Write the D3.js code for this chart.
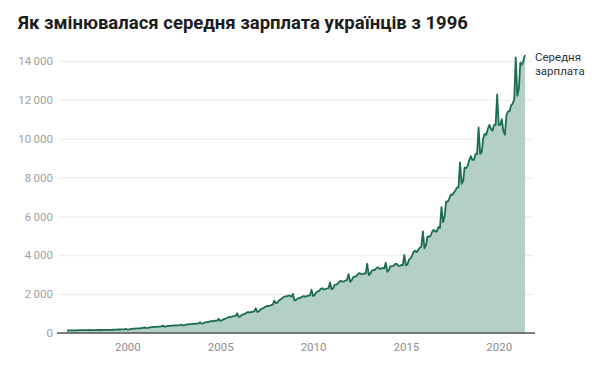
<!DOCTYPE html>
<html><head><meta charset="utf-8">
<script src="https://cdn.jsdelivr.net/npm/d3@7"></script>
<style>
body{margin:0;background:#fff;}
svg{display:block;font-family:Roboto, "Noto Sans", sans-serif;}
</style></head>
<body><svg id="c" width="600" height="366"></svg>
<script>
const title = "Як змінювалася середня зарплата українців з 1996";
const seriesLabel = ["Середня", "зарплата"];
const startMonth = "1996-10";
const yTicks = [0, 2000, 4000, 6000, 8000, 10000, 12000, 14000];
const xTicks = [2000, 2005, 2010, 2015, 2020];
const wages = [
  128,130,140,
  130,132,136,138,140,143,145,144,146,148,150,158,
  142,145,148,150,152,155,156,154,153,155,156,165,
  155,158,163,168,172,178,182,180,183,186,190,211,
  178,188,200,210,220,230,240,238,242,250,258,288,
  250,262,280,290,300,310,320,318,325,330,336,379,
  328,340,360,370,372,380,390,385,390,395,400,434,
  390,400,430,440,445,460,470,470,475,480,490,555,
  480,500,530,560,565,590,610,605,620,630,640,732,
  620,650,700,730,760,800,830,830,860,870,890,1012,
  830,860,930,960,980,1040,1080,1060,1080,1090,1110,1274,
  1080,1110,1200,1250,1280,1340,1390,1380,1400,1430,1460,1663,
  1540,1560,1680,1720,1780,1850,1880,1880,1920,1920,1860,2010,
  1670,1700,1770,1800,1810,1870,1900,1860,1900,1920,1930,2230,
  1900,1950,2080,2140,2170,2270,2300,2240,2260,2290,2300,2600,
  2250,2300,2470,2490,2530,2640,2690,2640,2660,2700,2730,3030,
  2630,2720,2870,2900,2930,3030,3080,3030,3030,3060,3070,3560,
  2980,3060,3200,3240,3250,3340,3380,3300,3300,3350,3320,3620,
  3140,3240,3430,3440,3450,3550,3560,3460,3450,3500,3480,4012,
  3480,3530,3770,3840,3960,4170,4230,4160,4270,4390,4440,5230,
  4360,4510,4950,4950,5000,5210,5300,5220,5220,5450,5400,6475,
  5700,6000,6750,6750,6900,7120,7100,7220,7330,7480,7500,8777,
  7670,7830,8500,8480,8600,8900,9100,8900,8900,9200,9200,10573,
  9220,9300,10010,10240,10200,10500,10700,10500,10400,10700,10700,12264,
  10700,10700,11000,10400,10200,11200,11400,11400,11700,11800,12000,14179,
  12200,12600,13900,13800,14000,14300
];

const parse = d3.timeParse("%Y-%m");
const t0 = parse(startMonth);
const data = wages.map((v, i) => ({date: d3.timeMonth.offset(t0, i), value: v}));

const svg = d3.select("#c");
const x = d3.scaleTime().domain(d3.extent(data, d => d.date)).range([67, 525]);
const y = d3.scaleLinear().domain([0, 14000]).range([333, 60.8]);
const gridX0 = 59, gridX1 = 533;

svg.append("text").attr("x", 18).attr("y", 29)
  .attr("font-size", 18.5).attr("font-weight", 700).attr("fill", "#1d1d1d")
  .text(title);

const fmt = v => d3.format(",")(v).replace(/,/g, "\u2009");
const yAxis = d3.axisLeft(y).tickValues(yTicks).tickSize(-(gridX1 - gridX0)).tickPadding(6).tickFormat(fmt);
const gy = svg.append("g").attr("transform", `translate(${gridX0},0)`).call(yAxis);
gy.select(".domain").remove();
gy.selectAll(".tick line").attr("stroke", "#e8e8e8").attr("stroke-width", 1);
gy.selectAll(".tick text").attr("fill", "#a0a0a0").attr("font-size", 11.5).attr("font-family", "Roboto, sans-serif");

svg.append("path").datum(data)
  .attr("fill", "#b3cfc7")
  .attr("d", d3.area().x(d => x(d.date)).y0(y(0)).y1(d => y(d.value)));

svg.append("path").datum(data)
  .attr("fill", "none").attr("stroke", "#1a6c53").attr("stroke-width", 1.8).attr("stroke-linejoin", "round")
  .attr("d", d3.line().x(d => x(d.date)).y(d => y(d.value)));

const xAxis = d3.axisBottom(x).tickValues(xTicks.map(yr => new Date(yr, 0, 1))).tickSize(0).tickPadding(10).tickFormat(d3.timeFormat("%Y"));
const gx = svg.append("g").attr("transform", `translate(0,${y(0)})`).call(xAxis);
gx.select(".domain").remove();
gx.selectAll(".tick text").attr("fill", "#8f8f8f").attr("font-size", 11.5).attr("font-family", "Roboto, sans-serif");

svg.append("line").attr("x1", 57).attr("x2", 535).attr("y1", y(0)).attr("y2", y(0))
  .attr("stroke", "#555").attr("stroke-width", 1.3);

svg.append("text").attr("x", 535).attr("y", 61).attr("font-size", 11.5).attr("fill", "#333")
  .selectAll("tspan").data(seriesLabel).join("tspan")
  .attr("x", 535).attr("dy", (d, i) => i ? 14 : 0).text(d => d);
</script></body></html>
